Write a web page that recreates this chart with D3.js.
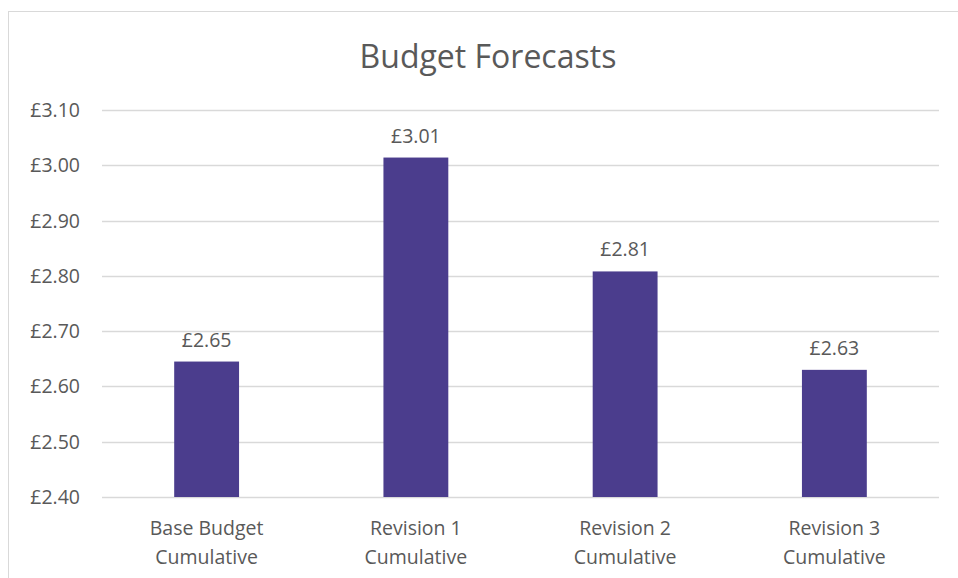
<!DOCTYPE html>
<html>
<head>
<meta charset="utf-8">
<style>
  body { margin: 0; background: #fff; }
  svg text { font-family: 'Open Sans', 'Noto Sans', sans-serif; fill: #595959; }
</style>
</head>
<body>
<div id="chart"></div>
<script src="https://cdn.jsdelivr.net/npm/d3@7"></script>
<script>
    var width = 958, height = 578;

    // data
    var categories = [['Base Budget', 'Cumulative'], ['Revision 1', 'Cumulative'], ['Revision 2', 'Cumulative'], ['Revision 3', 'Cumulative']];
    var values = [2.645, 3.014, 2.808, 2.630];
    var ticks = [2.40, 2.50, 2.60, 2.70, 2.80, 2.90, 3.00, 3.10];

    var plot = {left: 102, right: 939, top: 110, bottom: 497};

    var svg = d3.select('#chart')
        .append('svg')
        .attr('width', width)
        .attr('height', height);

    // chart frame
    svg.append('rect')
        .attr('x', 8.5)
        .attr('y', 11.5)
        .attr('width', 960)
        .attr('height', 600)
        .attr('fill', 'none')
        .attr('stroke', '#d9d9d9')
        .attr('stroke-width', 1);

    svg.append('text')
        .attr('x', 488)
        .attr('y', 68)
        .attr('text-anchor', 'middle')
        .style('font-size', '32px')
        .text('Budget Forecasts');

    var x = d3.scaleBand()
        .domain(d3.range(categories.length))
        .range([plot.left, plot.right])
        .paddingInner(0.69)
        .paddingOuter(0.345);

    var y = d3.scaleLinear()
        .domain([2.40, 3.10])
        .range([plot.bottom, plot.top]);

    var fmt = function(d){ return '£' + d3.format('.2f')(d); };

    // gridlines
    svg.append('g')
        .selectAll('line')
        .data(ticks)
        .enter().append('line')
        .attr('x1', plot.left)
        .attr('x2', plot.right)
        .attr('y1', function(d){ return Math.round(y(d)) + 0.5; })
        .attr('y2', function(d){ return Math.round(y(d)) + 0.5; })
        .attr('stroke', '#d9d9d9')
        .attr('stroke-width', 1.3);

    // y tick labels
    svg.append('g')
        .selectAll('text')
        .data(ticks)
        .enter().append('text')
        .attr('x', 80)
        .attr('y', function(d){ return y(d) + 7; })
        .attr('text-anchor', 'end')
        .style('font-size', '19.5px')
        .text(fmt);

    // bars
    svg.append('g')
        .selectAll('rect')
        .data(values)
        .enter().append('rect')
        .attr('x', function(d, i){ return x(i); })
        .attr('width', x.bandwidth())
        .attr('y', function(d){ return y(d); })
        .attr('height', function(d){ return y(2.40) - y(d); })
        .attr('fill', '#4b3d8d');

    // data labels
    svg.append('g')
        .selectAll('text')
        .data(values)
        .enter().append('text')
        .attr('x', function(d, i){ return x(i) + x.bandwidth() / 2; })
        .attr('y', function(d){ return y(d) - 15; })
        .attr('text-anchor', 'middle')
        .style('font-size', '19.5px')
        .text(fmt);

    // category labels
    var cat = svg.append('g')
        .selectAll('text')
        .data(categories)
        .enter().append('text')
        .attr('x', function(d, i){ return x(i) + x.bandwidth() / 2; })
        .attr('y', 535)
        .attr('text-anchor', 'middle')
        .style('font-size', '19.5px');

    cat.selectAll('tspan')
        .data(function(d){ return d; })
        .enter().append('tspan')
        .attr('x', function(){ return d3.select(this.parentNode).attr('x'); })
        .attr('dy', function(d, i){ return i == 0 ? 0 : 29; })
        .text(function(d){ return d; });
</script>
</body>
</html>
